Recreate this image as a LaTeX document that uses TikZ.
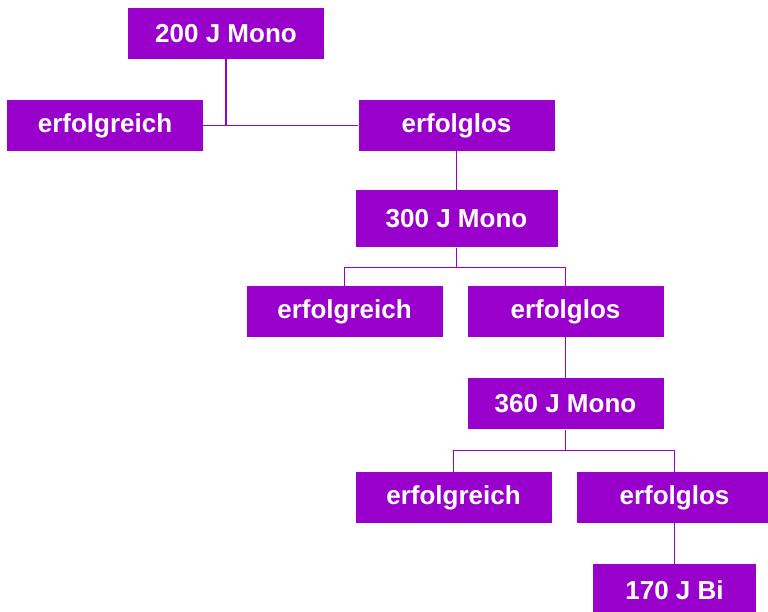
\documentclass[tikz,border=0pt]{standalone}
\usepackage{fontspec}
\setmainfont{Liberation Sans}
\usetikzlibrary{calc,positioning}
\definecolor{lila}{RGB}{153,0,204}
\begin{document}
\begin{tikzpicture}[
                x=1pt,y=1pt,
                node distance=40pt,
                every node/.append style={rectangle,fill=lila,text=white,inner sep=0pt,
                    minimum width=196pt,minimum height=51pt,
                    font=\fontsize{26}{30}\selectfont\bfseries},
                verbindung/.style={draw=lila,line width=1.5pt}
            ]
                \clip (0,0) rectangle (768,-611);
                \node (M200) at (226,-33.5)                     {200 J Mono};
                \node (G1)   at (105,-125.5)                    {erfolgreich};
                \node (L1)   at (456.5,-125.5)                  {erfolglos};
                \node (M300) [below=39pt of L1,minimum width=202pt,minimum height=57pt] {300 J Mono};
                \node (G2)   at (344.5,-311.5)                  {erfolgreich};
                \node (L2)   at (565.5,-311.5)                  {erfolglos};
                \node (M360) [below=41pt of L2]                 {360 J Mono};
                \node (G3)   at (453.5,-497.5)                  {erfolgreich};
                \node (L3)   at (674.5,-497.5)                  {erfolglos};
                \node (B170) [below=41pt of L3,minimum width=163pt] {170 J Bi};
                \coordinate (K2) at ($(M300.south)+(0,-20)$);
                \coordinate (K3) at ($(M360.south)+(0,-21)$);
                \draw[verbindung] (G1.east) -- (L1.west);
                \draw[verbindung] (M200.south) -- (M200.south |- G1.east);
                \draw[verbindung] (L1.south) -- (L1.south |- M300.north);
                \draw[verbindung] (M300.south) -- (K2) -| (G2.north);
                \draw[verbindung] (K2) -| (L2.north);
                \draw[verbindung] (L2.south) -- (M360.north);
                \draw[verbindung] (M360.south) -- (K3) -| (G3.north);
                \draw[verbindung] (K3) -| (L3.north);
                \draw[verbindung] (L3.south) -- (B170.north);
            \end{tikzpicture}
\end{document}
